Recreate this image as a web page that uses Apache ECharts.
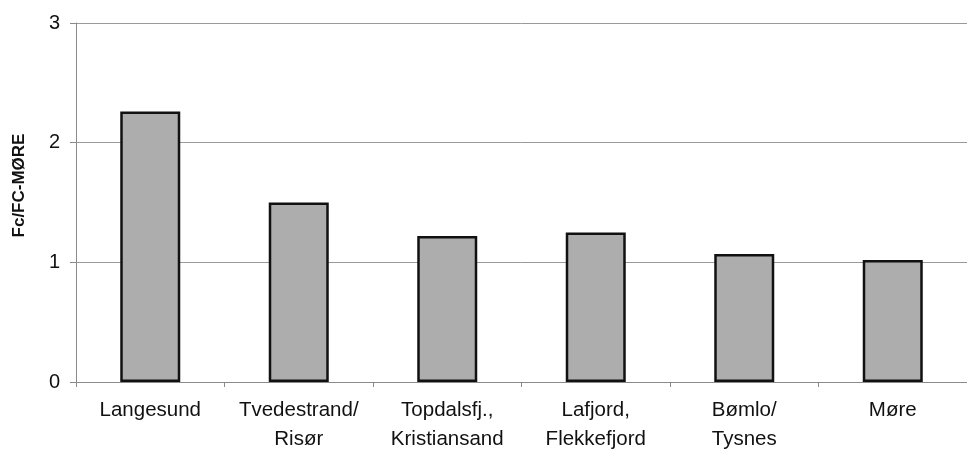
<!DOCTYPE html>
<html>
<head>
<meta charset="utf-8">
<script src="https://cdn.jsdelivr.net/npm/echarts@6/dist/echarts.min.js"></script>
<style>
  html, body { margin: 0; padding: 0; background: #fff; }
  #chart { width: 967px; height: 454px; }
</style>
</head>
<body>
<div id="chart"></div>
<script>
// Sites along the coast and their Fc relative to the Møre reference
const categories = ['Langesund', 'Tvedestrand/\nRisør', 'Topdalsfj.,\nKristiansand', 'Lafjord,\nFlekkefjord', 'Bømlo/\nTysnes', 'Møre'];
const ratios = [2.26, 1.50, 1.22, 1.25, 1.07, 1.02];
const yTicks = { min: 0, max: 3, interval: 1 };

const chart = echarts.init(document.getElementById('chart'), null, { renderer: 'canvas' });

const font = '"Liberation Sans", Arial, Helvetica, sans-serif';

chart.setOption({
  animation: false,
  backgroundColor: '#ffffff',
  grid: { left: 76, top: 23, bottom: 71, width: 900, containLabel: false },
  xAxis: {
    type: 'category',
    data: categories,
    axisLine: { show: true, lineStyle: { color: '#8a8a8a', width: 1 } },
    axisTick: { show: true, alignWithLabel: false, length: 5, lineStyle: { color: '#8a8a8a' } },
    axisLabel: {
      color: '#111',
      fontFamily: font,
      fontSize: 20.5,
      lineHeight: 29,
      margin: 14,
      interval: 0
    },
    splitLine: { show: false }
  },
  yAxis: {
    type: 'value',
    min: yTicks.min,
    max: yTicks.max,
    interval: yTicks.interval,
    name: 'Fc/FC-MØRE',
    nameLocation: 'middle',
    nameGap: 48,
    nameRotate: 90,
    nameTextStyle: {
      color: '#111',
      fontFamily: font,
      fontWeight: 'bold',
      fontSize: 17,
      padding: [0, 0, 0, 34]
    },
    axisLine: { show: true, lineStyle: { color: '#8a8a8a', width: 1 } },
    axisTick: { show: true, length: 6, lineStyle: { color: '#8a8a8a' } },
    axisLabel: {
      color: '#111',
      fontFamily: font,
      fontSize: 20,
      margin: 16
    },
    splitLine: { show: true, lineStyle: { color: '#999999', width: 1 } }
  },
  series: [{
    type: 'bar',
    data: ratios,
    barWidth: 60,
    itemStyle: {
      color: '#adadad',
      borderColor: '#111',
      borderWidth: 2.5
    }
  }]
});
</script>
</body>
</html>
